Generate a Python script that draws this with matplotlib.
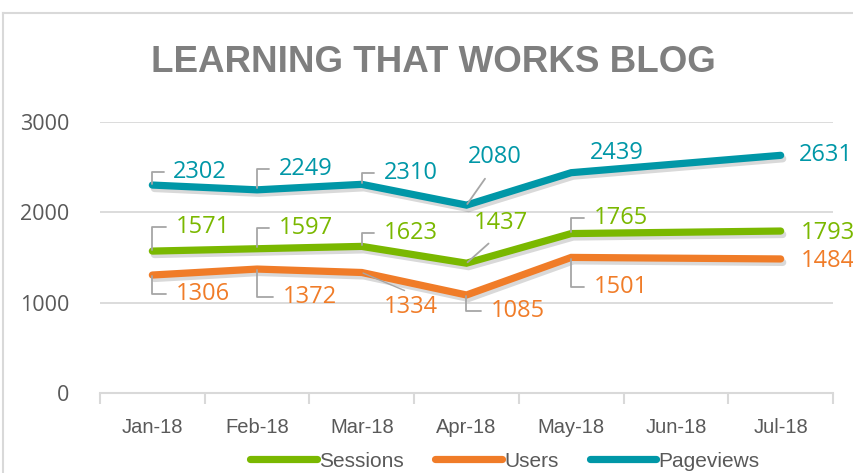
import numpy as np
import matplotlib
matplotlib.use("Agg")
import matplotlib.pyplot as plt
import matplotlib.patheffects as pe
from matplotlib.lines import Line2D

months = ["Jan-18", "Feb-18", "Mar-18", "Apr-18", "May-18", "Jun-18", "Jul-18"]
sessions = [1571, 1597, 1623, 1437, 1765, None, 1793]
users = [1306, 1372, 1334, 1085, 1501, None, 1484]
pageviews = [2302, 2249, 2310, 2080, 2439, None, 2631]
y_ticks = [0, 1000, 2000, 3000]

C_SES = "#7AB800"
C_USR = "#F07C28"
C_PV = "#0097A7"
GRID = "#D9D9D9"
LEAD = "#A6A6A6"

NARROW = ["Liberation Sans", "DejaVu Sans"]
LABEL = ["Open Sans", "DejaVu Sans"]

# label placement per point: (dx, dy) in pixels, leader kind
pv_pos = [((21, 13), "b"), ((22, 21), "b"), ((22, 11), "b"), ((1, 48), "d"),
          ((19, 20), None), None, ((18, 0), None)]
ses_pos = [((23, 24), "b"), ((22, 21), "b"), ((22, 13), "b"), ((7, 40), "d"),
           ((23, 16), "b"), None, ((20, -2), None)]
usr_pos = [((23, -19), "b"), ((26, -28), "b"), ((22, -35), "m"), ((24, -16), "b"),
           ((23, -30), "b"), None, ((20, -2), None)]


def draw_series(ax, vals, color, name, pos):
    idx = [i for i, v in enumerate(vals) if v is not None]
    yv = [vals[i] for i in idx]
    ax.plot(idx, yv, color=color, lw=5.2, solid_capstyle="round",
            solid_joinstyle="miter", label=name, zorder=3,
            path_effects=[pe.SimpleLineShadow(offset=(1.5, -2.5), shadow_color="k", alpha=0.15),
                          pe.Normal()])
    for i in idx:
        (dx, dy), kind = pos[i]
        ap = None
        if kind == "b":
            ap = dict(arrowstyle="-", color=LEAD, lw=1.3, shrinkA=5, shrinkB=1,
                      relpos=(0, 0.5), connectionstyle="angle,angleA=0,angleB=90,rad=0")
        elif kind == "d":
            ap = dict(arrowstyle="-", color=LEAD, lw=1.3, shrinkA=6, shrinkB=1,
                      relpos=(0.45, 0), connectionstyle="arc3")
        elif kind == "m":
            ap = dict(arrowstyle="-", color=LEAD, lw=1.0, shrinkA=4, shrinkB=1,
                      relpos=(0.6, 1), connectionstyle="arc3")
        ax.annotate(str(vals[i]), xy=(i, vals[i]), xytext=(dx, dy),
                    textcoords="offset pixels", ha="left", va="center",
                    color=color, fontsize=17, family=LABEL, arrowprops=ap, zorder=4)


fig = plt.figure(figsize=(8.54, 4.73), dpi=100)
ax = fig.add_axes([100 / 854, 1 - 393 / 473, 733 / 854, 271 / 473])

draw_series(ax, pageviews, C_PV, "Pageviews", pv_pos)
draw_series(ax, sessions, C_SES, "Sessions", ses_pos)
draw_series(ax, users, C_USR, "Users", usr_pos)

ax.set_xlim(-0.5, len(months) - 0.5)
ax.set_ylim(0, 3000)
ax.set_yticks(y_ticks)
ax.set_yticklabels([str(v) for v in y_ticks], family=LABEL, fontsize=15.5, color="#595959")
ax.set_xticks(range(len(months)))
ax.set_xticklabels(months, family=NARROW, fontsize=14.5, color="#595959")
ax.set_xticks(np.arange(-0.5, len(months)), minor=True)
ax.tick_params(axis="x", which="major", length=0, pad=18)
ax.tick_params(axis="x", which="minor", length=8, color=GRID, width=1.5, direction="out")
ax.tick_params(axis="y", length=0, pad=22)
ax.grid(axis="y", color=GRID, lw=1.3)
ax.set_axisbelow(True)
for s in ["top", "right", "left"]:
    ax.spines[s].set_visible(False)
ax.spines["bottom"].set_color(GRID)
ax.spines["bottom"].set_linewidth(1.5)

fig.text(433 / 854, 1 - 62 / 473, "LEARNING THAT WORKS BLOG", ha="center", va="center",
         fontsize=26.5, fontweight="bold", color="#7F7F7F", family=NARROW)

# chart border, partly cropped
fig.add_artist(Line2D([3 / 854, 3 / 854], [0, 1 - 13 / 473], color=GRID, lw=1.5))
fig.add_artist(Line2D([3 / 854, 1], [1 - 13 / 473, 1 - 13 / 473], color=GRID, lw=1.5))

handles = [Line2D([], [], color=c, lw=5.2, solid_capstyle="round") for c in (C_SES, C_USR, C_PV)]
fig.legend(handles, ["Sessions", "Users", "Pageviews"], loc="center",
           bbox_to_anchor=(505 / 854, 1 - 461 / 473), ncol=3, frameon=False,
           handlelength=3.2, handletextpad=0.1, columnspacing=1.5,
           prop={"family": NARROW, "size": 15}, labelcolor="#595959")

fig.savefig("out.png", dpi=100)
